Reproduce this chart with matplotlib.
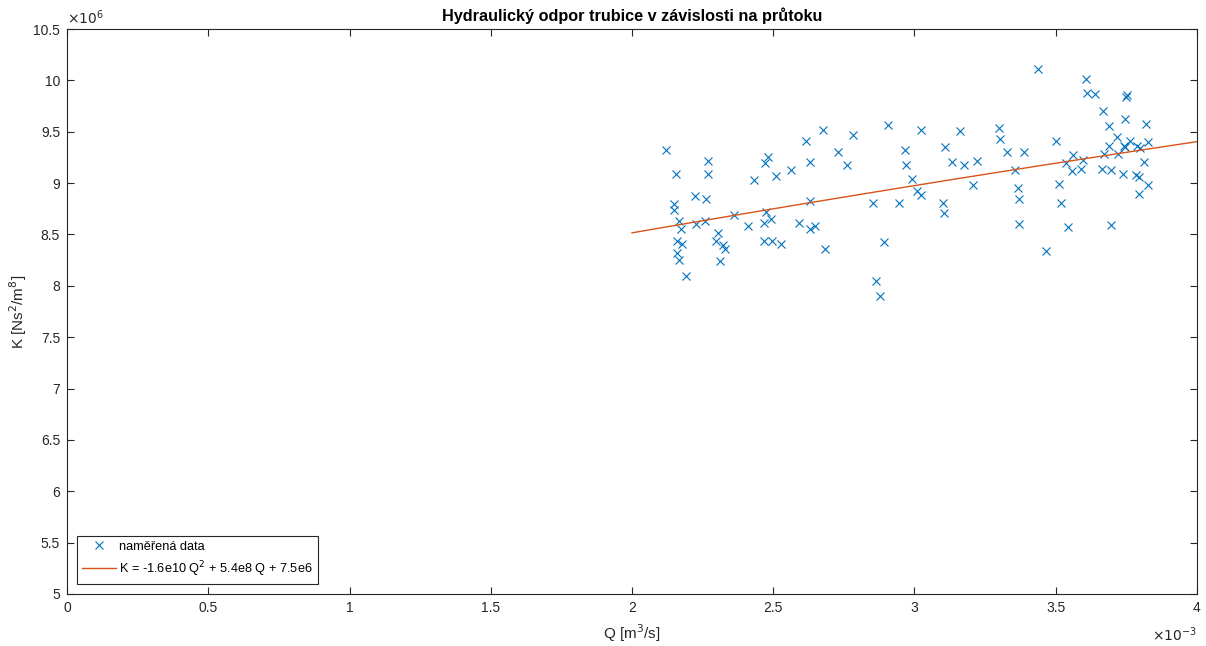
import numpy as np
import matplotlib
matplotlib.use('Agg')
import matplotlib.pyplot as plt
from matplotlib.ticker import FuncFormatter

plt.rcParams['font.family'] = ['Liberation Sans', 'DejaVu Sans']

# measured data, Q in 1e-3 m^3/s, K in 1e6 Ns^2/m^8
Q = [2.119, 2.150, 2.150, 2.155, 2.158, 2.158, 2.165, 2.165, 2.172, 2.177,
     2.192, 2.223, 2.225, 2.259, 2.262, 2.270, 2.270, 2.297, 2.303, 2.312,
     2.321, 2.329, 2.362, 2.411, 2.433, 2.467, 2.467, 2.471, 2.474, 2.482,
     2.491, 2.496, 2.509, 2.528, 2.562, 2.592, 2.615, 2.630, 2.630, 2.630,
     2.648, 2.675, 2.683, 2.730, 2.762, 2.781, 2.853, 2.863, 2.877, 2.892,
     2.905, 2.944, 2.966, 2.970, 2.990, 3.010, 3.023, 3.023, 3.109, 3.102,
     3.106, 3.133, 3.160, 3.174, 3.208, 3.220, 3.300, 3.304, 3.326, 3.356,
     3.368, 3.371, 3.371, 3.386, 3.436, 3.466, 3.501, 3.510, 3.518, 3.536,
     3.544, 3.556, 3.562, 3.589, 3.598, 3.606, 3.610, 3.640, 3.663, 3.668,
     3.672, 3.688, 3.688, 3.697, 3.697, 3.718, 3.721, 3.737, 3.742, 3.746,
     3.744, 3.751, 3.749, 3.764, 3.785, 3.787, 3.795, 3.795, 3.797, 3.814,
     3.818, 3.825, 3.825]
K = [9.32, 8.80, 8.74, 9.09, 8.44, 8.32, 8.63, 8.25, 8.55, 8.41,
     8.10, 8.87, 8.60, 8.63, 8.85, 9.22, 9.09, 8.44, 8.51, 8.24,
     8.40, 8.36, 8.69, 8.58, 9.03, 8.44, 8.61, 9.20, 8.72, 9.25,
     8.65, 8.44, 9.07, 8.41, 9.13, 8.61, 9.41, 9.21, 8.83, 8.55,
     8.58, 9.52, 8.36, 9.30, 9.18, 9.47, 8.81, 8.05, 7.90, 8.43,
     9.57, 8.81, 9.32, 9.18, 9.04, 8.92, 8.88, 9.52, 9.35, 8.81,
     8.71, 9.21, 9.51, 9.18, 8.98, 9.22, 9.54, 9.43, 9.30, 9.13,
     8.95, 8.85, 8.60, 9.30, 10.11, 8.34, 9.41, 8.99, 8.81, 9.20,
     8.57, 9.12, 9.27, 9.14, 9.23, 10.01, 9.88, 9.87, 9.14, 9.70,
     9.28, 9.56, 9.36, 9.13, 8.59, 9.45, 9.28, 9.09, 9.36, 9.35,
     9.62, 9.86, 9.84, 9.41, 9.08, 9.36, 9.06, 8.89, 9.34, 9.21,
     9.58, 9.40, 8.98]

# fitted polynomial from the legend
coef = [-1.6e10, 5.4e8, 7.5e6]
Qfit = np.linspace(2e-3, 4e-3, 100)
Kfit = np.polyval(coef, Qfit)

blue = '#0072BD'
orange = '#D95319'
axcol = '#262626'

fig = plt.figure(figsize=(12.06, 6.46), dpi=100)
ax = fig.add_axes([0.0556, 0.0805, 0.9369, 0.8745])

ax.plot(Q, K, 'x', color=blue, markersize=5.5, markeredgewidth=0.8,
        label='naměřená data')
ax.plot(Qfit * 1e3, Kfit / 1e6, '-', color=orange, linewidth=1.0,
        label='K = -1.6e10 Q$^2$ + 5.4e8 Q + 7.5e6')

ax.set_xlim(0, 4)
ax.set_ylim(5, 10.5)
ax.set_xticks(np.arange(0, 4.01, 0.5))
ax.set_yticks(np.arange(5, 10.51, 0.5))
fmt = FuncFormatter(lambda v, p: '%g' % v)
ax.xaxis.set_major_formatter(fmt)
ax.yaxis.set_major_formatter(fmt)
ax.tick_params(direction='in', top=True, right=True, length=5, width=0.8,
               colors=axcol, labelsize=10, pad=5)
for s in ax.spines.values():
    s.set_color(axcol)
    s.set_linewidth(0.8)

ax.set_xlabel('Q [m$^3$/s]', fontsize=11, color=axcol, labelpad=5)
ax.set_ylabel('K [Ns$^2$/m$^8$]', fontsize=11, color=axcol, labelpad=3)
ax.set_title('Hydraulický odpor trubice v závislosti na průtoku',
             fontsize=11.7, fontweight='bold', color='black', pad=6)

ax.text(0.0, 1.004, r'$\times10^{6}$', transform=ax.transAxes,
        fontsize=10, color=axcol, ha='left', va='bottom')
ax.text(1.0, -0.072, r'$\times10^{-3}$', transform=ax.transAxes,
        fontsize=10, color=axcol, ha='right', va='center')

leg = ax.legend(loc='lower left', fontsize=9.2, fancybox=False,
                edgecolor=axcol, framealpha=1, borderaxespad=0.8,
                handlelength=2.6, handletextpad=0.3, borderpad=0.4,
                labelspacing=0.5)
leg.get_frame().set_linewidth(0.8)

fig.savefig('out.png', dpi=100)
